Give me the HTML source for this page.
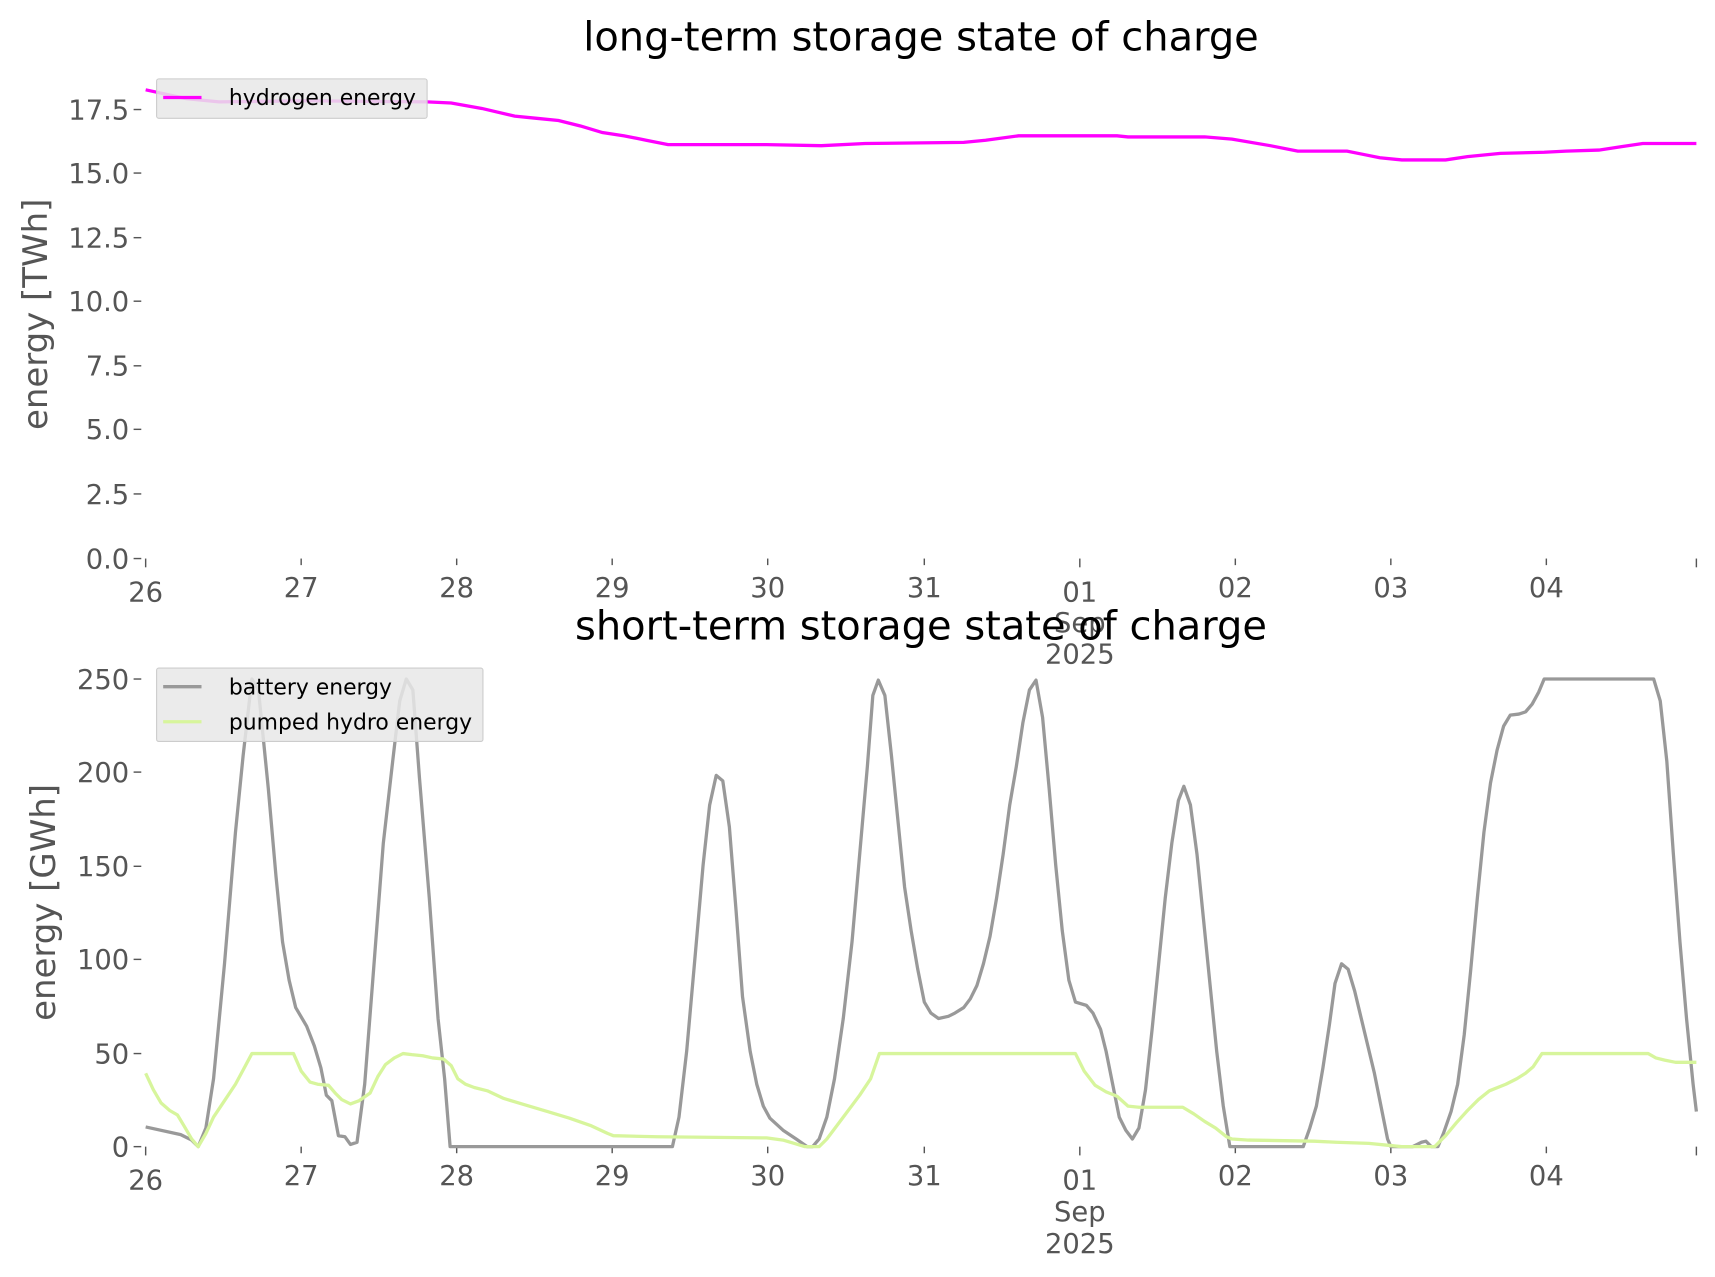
<!DOCTYPE html>
<html><head><meta charset="utf-8"><style>
html,body{margin:0;padding:0;background:#fff;}
svg{display:block;}
text{font-family:"DejaVu Sans","Liberation Sans",sans-serif;}
</style></head><body>
<svg width="1715" height="1277" viewBox="0 0 1566 1166" xmlns="http://www.w3.org/2000/svg">
<rect width="1566" height="1166" fill="#fff"/>
<!-- TOP -->
<text x="841" y="46" font-size="36.5" text-anchor="middle" fill="#000">long-term storage state of charge</text>
<text transform="translate(43,287) rotate(-90)" font-size="31" text-anchor="middle" fill="#555">energy [TWh]</text>
<g font-size="25" fill="#555" text-anchor="end">
<text x="118" y="109">17.5</text><text x="118" y="167">15.0</text><text x="118" y="226">12.5</text>
<text x="118" y="284">10.0</text><text x="118" y="343">7.5</text><text x="118" y="401">5.0</text>
<text x="118" y="460">2.5</text><text x="118" y="519">0.0</text>
</g>
<g stroke="#555" stroke-width="1.3">
<line x1="122" x2="129" y1="100" y2="100"/><line x1="122" x2="129" y1="158" y2="158"/><line x1="122" x2="129" y1="217" y2="217"/>
<line x1="122" x2="129" y1="275" y2="275"/><line x1="122" x2="129" y1="334" y2="334"/><line x1="122" x2="129" y1="392" y2="392"/>
<line x1="122" x2="129" y1="451" y2="451"/><line x1="122" x2="129" y1="510" y2="510"/>
<line x1="133" x2="133" y1="510" y2="518"/><line x1="275" x2="275" y1="510" y2="516"/><line x1="417" x2="417" y1="510" y2="516"/><line x1="559" x2="559" y1="510" y2="516"/><line x1="701" x2="701" y1="510" y2="516"/><line x1="844" x2="844" y1="510" y2="516"/><line x1="986" x2="986" y1="510" y2="518"/><line x1="1128" x2="1128" y1="510" y2="516"/><line x1="1270" x2="1270" y1="510" y2="516"/><line x1="1412" x2="1412" y1="510" y2="516"/><line x1="1549" x2="1549" y1="510" y2="518"/>
</g>
<g font-size="25" fill="#555" text-anchor="middle">
<text x="133" y="549">26</text><text x="275" y="545">27</text><text x="417" y="545">28</text><text x="559" y="545">29</text><text x="701" y="545">30</text><text x="844" y="545">31</text><text x="986" y="549">01</text><text x="1128" y="545">02</text><text x="1270" y="545">03</text><text x="1412" y="545">04</text>
<text x="986" y="577">Sep</text><text x="986" y="606">2025</text>
</g>
<polyline fill="none" stroke="#ff00ff" stroke-width="3" points="133,82 170,90 200,93 280,92 390,93 412,94 440,99 470,106 490,108 510,110 530,115 550,121 570,124 590,128 610,132 700,132 750,133 790,131 880,130 900,128 930,124 1020,124 1030,125 1100,125 1125,127 1160,133 1185,138 1230,138 1245,141 1260,144 1280,146 1320,146 1340,143 1370,140 1410,139 1430,138 1460,137 1480,134 1500,131 1549,131"/>
<rect x="143" y="72" width="247" height="36" rx="2" fill="#e8e8e8" fill-opacity="0.85" stroke="#ccc"/>
<line x1="149" x2="184" y1="89" y2="89" stroke="#ff00ff" stroke-width="3"/>
<text x="209" y="96" font-size="20" fill="#000">hydrogen energy</text>

<!-- BOTTOM -->
<text x="841" y="584" font-size="36.5" text-anchor="middle" fill="#000">short-term storage state of charge</text>
<text transform="translate(50,824) rotate(-90)" font-size="31" text-anchor="middle" fill="#555">energy [GWh]</text>
<g font-size="25" fill="#555" text-anchor="end">
<text x="118" y="629">250</text><text x="118" y="714">200</text><text x="118" y="800">150</text>
<text x="118" y="885">100</text><text x="118" y="971">50</text><text x="118" y="1056">0</text>
</g>
<g stroke="#555" stroke-width="1.3">
<line x1="122" x2="129" y1="620" y2="620"/><line x1="122" x2="129" y1="705" y2="705"/><line x1="122" x2="129" y1="791" y2="791"/>
<line x1="122" x2="129" y1="876" y2="876"/><line x1="122" x2="129" y1="962" y2="962"/><line x1="122" x2="129" y1="1047" y2="1047"/>
<line x1="133" x2="133" y1="1047" y2="1055"/><line x1="275" x2="275" y1="1047" y2="1053"/><line x1="417" x2="417" y1="1047" y2="1053"/><line x1="559" x2="559" y1="1047" y2="1053"/><line x1="701" x2="701" y1="1047" y2="1053"/><line x1="844" x2="844" y1="1047" y2="1053"/><line x1="986" x2="986" y1="1047" y2="1055"/><line x1="1128" x2="1128" y1="1047" y2="1053"/><line x1="1270" x2="1270" y1="1047" y2="1053"/><line x1="1412" x2="1412" y1="1047" y2="1053"/><line x1="1549" x2="1549" y1="1047" y2="1055"/>
</g>
<g font-size="25" fill="#555" text-anchor="middle">
<text x="133" y="1086">26</text><text x="275" y="1082">27</text><text x="417" y="1082">28</text><text x="559" y="1082">29</text><text x="701" y="1082">30</text><text x="844" y="1082">31</text><text x="986" y="1086">01</text><text x="1128" y="1082">02</text><text x="1270" y="1082">03</text><text x="1412" y="1082">04</text>
<text x="986" y="1115">Sep</text><text x="986" y="1144">2025</text>
</g>
<polyline fill="none" stroke="#999" stroke-width="3" stroke-linejoin="round" points="133,1029 165,1036 175,1041 181,1047 188,1030 195,985 205,880 215,760 222,690 230,620 236,630 245,720 252,800 258,860 264,895 270,920 280,937 287,955 293,975 298,1000 303,1005 309,1037 315,1038 320,1045 326,1043 333,990 340,900 350,770 358,700 365,640 371,620 377,630 383,710 392,820 400,930 406,985 411,1047 614,1047 620,1020 627,960 635,870 642,790 648,735 654,708 660,713 666,755 672,830 678,910 685,960 691,990 697,1010 703,1021 715,1032 727,1040 737,1047 742,1047 748,1040 755,1020 762,985 770,930 778,860 785,780 792,700 797,635 802,621 808,635 814,690 820,750 826,810 832,850 838,885 844,915 850,925 857,930 866,928 872,925 880,920 886,912 892,900 898,880 904,855 910,820 916,780 922,735 928,700 934,660 940,630 946,621 952,655 958,720 964,790 970,850 976,895 982,915 992,918 998,925 1005,940 1010,960 1016,990 1022,1020 1028,1032 1034,1040 1040,1030 1046,995 1052,940 1058,880 1064,820 1070,770 1076,731 1081,718 1087,735 1093,780 1099,840 1105,900 1111,960 1117,1010 1123,1047 1190,1047 1196,1030 1202,1010 1208,975 1214,935 1219,898 1225,880 1231,885 1237,905 1243,930 1249,955 1255,980 1261,1010 1267,1040 1270,1047 1290,1047 1298,1043 1302,1042 1307,1047 1313,1047 1318,1035 1325,1015 1331,990 1337,945 1343,885 1349,820 1355,760 1361,715 1367,685 1373,663 1379,653 1387,652 1393,650 1399,643 1405,632 1410,620 1510,620 1516,640 1522,695 1528,780 1534,860 1540,930 1546,990 1549,1015"/>
<polyline fill="none" stroke="#d7f59c" stroke-width="3" stroke-linejoin="round" points="133,980 140,995 147,1007 155,1014 162,1018 168,1028 175,1040 181,1047 188,1035 195,1020 205,1005 215,990 222,977 230,962 268,962 275,978 283,988 290,990 300,991 306,998 312,1004 320,1008 328,1005 338,998 345,983 352,972 360,966 368,962 376,963 386,964 395,966 405,967 412,973 418,985 425,990 433,993 445,996 460,1003 480,1009 500,1015 520,1021 540,1028 555,1035 560,1037 600,1038 700,1039 715,1041 725,1044 735,1047 748,1047 755,1040 770,1020 785,1000 795,985 803,962 982,962 990,978 1000,991 1010,997 1020,1001 1030,1010 1040,1011 1080,1011 1090,1017 1100,1024 1110,1030 1120,1038 1125,1040 1140,1041 1200,1042 1220,1043 1250,1044 1270,1046 1280,1047 1310,1047 1320,1037 1330,1025 1340,1014 1350,1004 1360,996 1375,990 1385,985 1393,980 1400,974 1408,962 1505,962 1512,966 1520,968 1530,970 1549,970"/>
<rect x="143" y="610" width="298" height="67" rx="2" fill="#e8e8e8" fill-opacity="0.85" stroke="#ccc"/>
<line x1="149" x2="184" y1="627" y2="627" stroke="#999" stroke-width="3"/>
<text x="209" y="634" font-size="20" fill="#000">battery energy</text>
<line x1="149" x2="184" y1="659" y2="659" stroke="#d7f59c" stroke-width="3"/>
<text x="209" y="666" font-size="20" fill="#000">pumped hydro energy</text>
</svg>
</body></html>
